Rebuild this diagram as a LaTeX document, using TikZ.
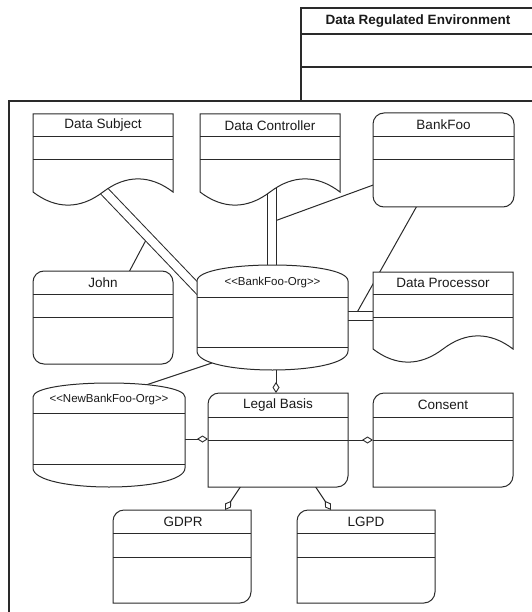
\documentclass[tikz,border=0pt]{standalone}
\usepackage{fontspec}
\setmainfont{Liberation Sans}
\usetikzlibrary{arrows.meta,calc}
\pgfdeclarelayer{bg}
\pgfsetlayers{bg,main}
\definecolor{lc}{HTML}{2A2A2A}
\definecolor{tc}{HTML}{1A1A1A}
\tikzset{
  shp/.style={draw=lc, line width=1pt, fill=white},
  dv/.style={draw=lc, line width=1pt},
  frm/.style={draw=lc, line width=1.7pt},
  ttl/.style={font=\fontsize{13.5}{16}\selectfont, text=tc, inner sep=0pt},
  bttl/.style={font=\fontsize{13.5}{16}\selectfont\bfseries, text=tc, inner sep=0pt},
  ster/.style={font=\fontsize{11.5}{14}\selectfont, text=tc, inner sep=0pt},
  conn/.style={draw=lc, line width=1pt},
  lnk/.style={draw=lc, line width=1pt, double=white, double distance=8pt},
  agg/.style={conn, -{Diamond[open, length=11pt, width=7pt, line width=0.9pt]}},
}
% document shape: x1, top, line1, line2, base (width 140)
\newcommand\mydoc[5]{%
  \draw[shp] (#1,#2) -- ({#1+140},#2) -- ({#1+140},#5)
    .. controls ({#1+117},{#5-17.5}) and ({#1+93},{#5-17.5}) .. ({#1+70},#5)
    .. controls ({#1+47},{#5+17.5}) and ({#1+23},{#5+17.5}) .. (#1,#5) -- cycle;
  \draw[dv] (#1,#3) -- ({#1+140},#3) (#1,#4) -- ({#1+140},#4);}
% fully rounded box: x1,y1,x2,y2,line1,line2
\newcommand\myrbox[6]{%
  \draw[shp, rounded corners=11pt] (#1,#2) rectangle (#3,#4);
  \draw[dv] (#1,#5) -- (#3,#5) (#1,#6) -- (#3,#6);}
% box with top-left and bottom-right rounded
\newcommand\mytbox[6]{%
  \draw[shp] (#1,#4) -- (#1,{#2+11}) .. controls (#1,{#2+5}) and ({#1+5},#2) .. ({#1+11},#2)
    -- (#3,#2) -- (#3,{#4-11}) .. controls (#3,{#4-5}) and ({#3-5},#4) .. ({#3-11},#4) -- cycle;
  \draw[dv] (#1,#5) -- (#3,#5) (#1,#6) -- (#3,#6);}
% cylinder: x1,x2,arctop,sidetop,line1,line2,sidebottom,arcbottom
\newcommand\mycyl[8]{%
  \draw[shp] (#1,#4) .. controls (#1,{#4-4/3*(#4-#3)}) and (#2,{#4-4/3*(#4-#3)}) .. (#2,#4)
    -- (#2,#7) .. controls (#2,{#7+4/3*(#8-#7)}) and (#1,{#7+4/3*(#8-#7)}) .. (#1,#7) -- cycle;
  \draw[dv] (#1,#5) -- (#2,#5) (#1,#6) -- (#2,#6);}
\begin{document}
\begin{tikzpicture}[x=1pt,y=-1pt]
\useasboundingbox (0,0) rectangle (531,612);
% environment
\draw[frm, fill=white] (301,8) rectangle (545,101);
\draw[frm] (301,34) -- (545,34) (301,67) -- (545,67);
\node[bttl] (env) at (418,21.5) {Data Regulated Environment};
\draw[frm] (545,101) -- (9,101) -- (9,625);

% shapes
\mydoc{33}{114}{137}{160}{192}
\node[ttl] (ds) at (103,125.5) {Data Subject};
\mydoc{200}{114}{137}{160}{192}
\node[ttl] (dc) at (270,125.5) {Data Controller};
\myrbox{373}{113}{514}{207}{137}{160}
\node[ttl] (bf) at (443.5,125) {BankFoo};
\myrbox{33}{271}{173}{364}{294}{317}
\node[ttl] (john) at (103,282.5) {John};
\mycyl{197}{348}{265}{281}{297}{347}{351}{370}
\node[ster] (bfo) at (272.5,283) {<\kern0pt<BankFoo-Org>\kern0pt>};
\mydoc{373}{272}{294}{317}{349}
\node[ttl] (dp) at (443,283) {Data Processor};
\mycyl{33}{185}{383}{397}{413}{464}{468}{487}
\node[ster] (nbfo) at (109,400) {<\kern0pt<NewBankFoo-Org>\kern0pt>};
\mytbox{208}{393}{348}{487}{417}{440}
\node[ttl] (lb) at (278,405) {Legal Basis};
\mytbox{373}{393}{513}{487}{417}{440}
\node[ttl] (cons) at (443,405) {Consent};
\mytbox{113}{510}{251}{603}{533}{557}
\node[ttl] (gdpr) at (183,521.5) {GDPR};
\mytbox{297}{510}{435}{603}{533}{557}
\node[ttl] (lgpd) at (366,521.5) {LGPD};

% connector anchor points
\coordinate (dsA) at (101,187.7);
\coordinate (dsB) at (205,296.4);
\coordinate (dcA) at (272,188);
\coordinate (dcB) at (272,270);
\coordinate (dpA) at (344,316);
\coordinate (dpB) at (377,316);
\coordinate (johnT) at (128,274);
\coordinate (bfL) at (376,184);
\coordinate (bfB) at (418,204);
\coordinate (bfoB) at (212,363);
\coordinate (bfoC) at (276,366);
\coordinate (nbfoT) at (146,385);
\coordinate (nbfoR) at (183,439);
\coordinate (lbT) at (276,393);
\coordinate (lbL) at (208,439);
\coordinate (lbR) at (346,440);
\coordinate (lbB1) at (241,486);
\coordinate (lbB2) at (315,486);
\coordinate (consL) at (373,440);
\coordinate (gdprT) at (225,510);
\coordinate (lgpdT) at (331,510);

\begin{pgfonlayer}{bg}
  \draw[conn] (johnT) -- ($(dsA)!0.45!(dsB)$);
  \draw[conn] (bfL) -- (dcA |- 0,222);
  \draw[conn] (bfB) -- (355,316);
  \draw[conn] (bfoB) -- (nbfoT);
  \draw[lnk] (dsA) -- (dsB);
  \draw[lnk] (dcA) -- (dcB);
  \draw[lnk] (dpA) -- (dpB);
  \draw[agg] (bfoC) -- (lbT);
  \draw[agg] (nbfoR) -- (lbL);
  \draw[agg] (lbR) -- (consL);
  \draw[agg] (lbB1) -- (gdprT);
  \draw[agg] (lbB2) -- (lgpdT);
\end{pgfonlayer}
\end{tikzpicture}
\end{document}
